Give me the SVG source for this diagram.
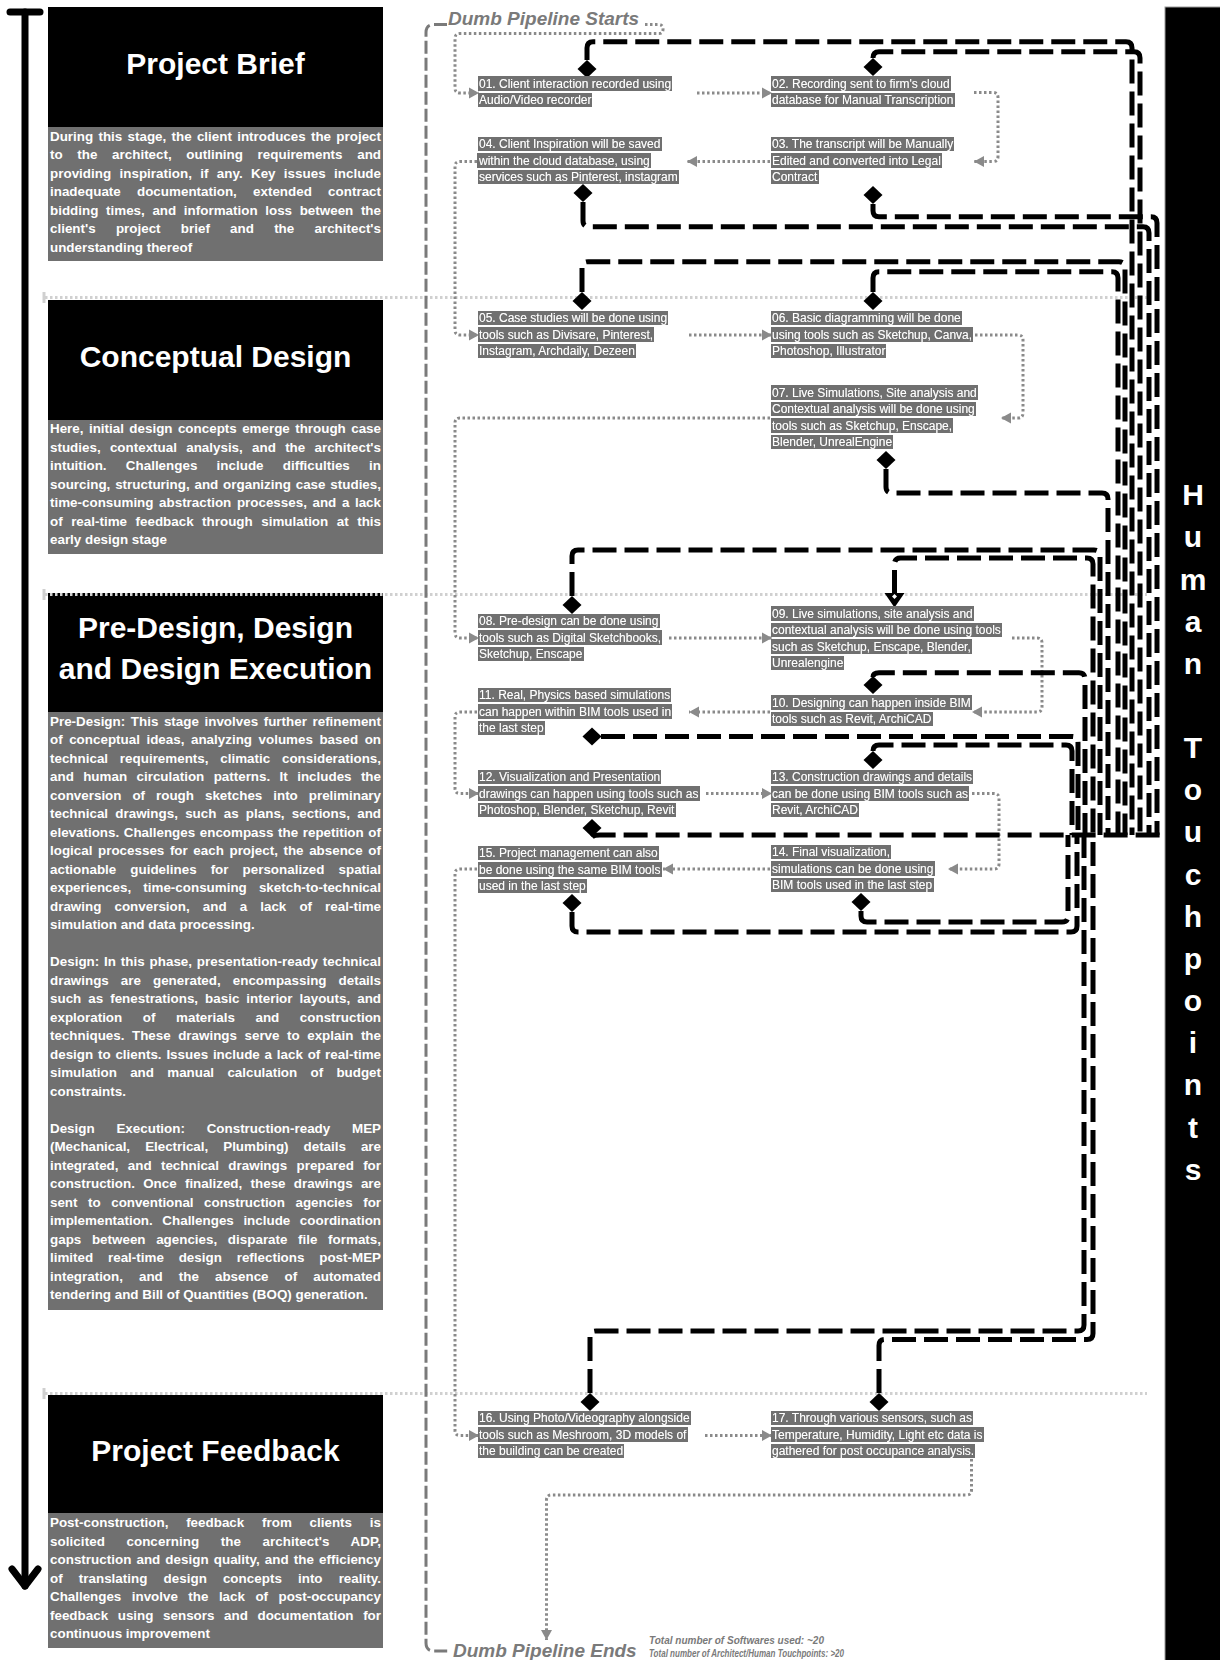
<svg xmlns="http://www.w3.org/2000/svg" width="1220" height="1660" viewBox="0 0 1220 1660">
  <defs>
    <filter id="hl" x="-0.004" y="0" width="1.008" height="1">
      <feFlood flood-color="#6f6f6f"/>
      <feComposite in="SourceGraphic" operator="over"/>
    </filter>
    <marker id="ga" viewBox="0 0 10 12" refX="10" refY="6" markerWidth="10" markerHeight="12" markerUnits="userSpaceOnUse" orient="auto">
      <path d="M0 0.5 L10 6 L0 11.5 Z" fill="#8a8a8a"/>
    </marker>
    <path id="dia" d="M0 -9 L9.5 0 L0 9 L-9.5 0 Z" fill="#000"/>
  </defs>
  <style>
    .pt{font-family:"Liberation Sans",Arial,sans-serif;font-weight:bold;font-size:30px;fill:#fff;text-anchor:middle}
    .pb{font-family:"Liberation Sans",Arial,sans-serif;font-weight:bold;font-size:13.4px;fill:#fff}
    .st{font-family:"Liberation Sans",Arial,sans-serif;font-size:12px;fill:#fff;filter:url(#hl)}
    .flow{fill:none;stroke:#8a8a8a;stroke-width:3;stroke-dasharray:2.5 2.5}
    .touch{fill:none;stroke:#000;stroke-width:5;stroke-dasharray:24 8}
    .sep{fill:none;stroke:#d0d0d0;stroke-width:3;stroke-dasharray:2.5 2.5}
    .bracket{fill:none;stroke:#7a7a7a;stroke-width:3;stroke-dasharray:13 4}
    .pipe{font-family:"Liberation Sans",Arial,sans-serif;font-weight:bold;font-style:italic;font-size:19px;fill:#7a7a7a}
    .tot{font-family:"Liberation Sans",Arial,sans-serif;font-weight:bold;font-style:italic;font-size:10px;fill:#7a7a7a}
    .ht{font-family:"Liberation Sans",Arial,sans-serif;font-weight:bold;font-size:30px;fill:#fff;text-anchor:middle}
  </style>

  <rect width="1220" height="1660" fill="#fff"/>

  <!-- timeline arrow on the left -->
  <g id="timeline" fill="none" stroke="#000" stroke-width="7" stroke-linecap="round" stroke-linejoin="round">
    <line x1="10" y1="12" x2="40" y2="12"/>
    <line x1="25" y1="12" x2="25" y2="1586"/>
    <polyline points="12,1569 25,1586 38,1569"/>
  </g>

  <!-- stage panels: justified body lines use word-spacing plus textLength -->
  <g id="panel-brief">
    <rect x="48" y="7" width="335" height="120" fill="#000"/>
    <rect x="48" y="127" width="335" height="134" fill="#707070"/>
    <text class="pt" x="215.5" y="74">Project Brief</text>
    <text class="pb" x="50" y="140.5" word-spacing="1.57" textLength="331" lengthAdjust="spacing">During this stage, the client introduces the project</text>
    <text class="pb" x="50" y="159" word-spacing="10.96" textLength="331" lengthAdjust="spacing">to the architect, outlining requirements and</text>
    <text class="pb" x="50" y="177.5" word-spacing="4.55" textLength="331" lengthAdjust="spacing">providing inspiration, if any. Key issues include</text>
    <text class="pb" x="50" y="196" word-spacing="12.5" textLength="331" lengthAdjust="spacing">inadequate documentation, extended contract</text>
    <text class="pb" x="50" y="214.5" word-spacing="3.9" textLength="331" lengthAdjust="spacing">bidding times, and information loss between the</text>
    <text class="pb" x="50" y="233" word-spacing="16.5" textLength="331" lengthAdjust="spacing">client's project brief and the architect's</text>
    <text class="pb" x="50" y="251.5">understanding thereof</text>
  </g>

  <g id="panel-concept">
    <rect x="48" y="300" width="335" height="120" fill="#000"/>
    <rect x="48" y="420" width="335" height="134" fill="#707070"/>
    <text class="pt" x="215.5" y="367">Conceptual Design</text>
    <text class="pb" x="50" y="433" word-spacing="1.67" textLength="331" lengthAdjust="spacing">Here, initial design concepts emerge through case</text>
    <text class="pb" x="50" y="451.5" word-spacing="5.54" textLength="331" lengthAdjust="spacing">studies, contextual analysis, and the architect's</text>
    <text class="pb" x="50" y="470" word-spacing="15.55" textLength="331" lengthAdjust="spacing">intuition. Challenges include difficulties in</text>
    <text class="pb" x="50" y="488.5" word-spacing="1.12" textLength="331" lengthAdjust="spacing">sourcing, structuring, and organizing case studies,</text>
    <text class="pb" x="50" y="507" word-spacing="1.86" textLength="331" lengthAdjust="spacing">time-consuming abstraction processes, and a lack</text>
    <text class="pb" x="50" y="525.5" word-spacing="4.78" textLength="331" lengthAdjust="spacing">of real-time feedback through simulation at this</text>
    <text class="pb" x="50" y="544">early design stage</text>
  </g>

  <g id="panel-design">
    <rect x="48" y="593" width="335" height="119" fill="#000"/>
    <rect x="48" y="712" width="335" height="598" fill="#707070"/>
    <text class="pt" x="215.5" y="638">Pre-Design, Design</text>
    <text class="pt" x="215.5" y="679">and Design Execution</text>
    <text class="pb" x="50" y="725.5" word-spacing="1.86" textLength="331" lengthAdjust="spacing">Pre-Design: This stage involves further refinement</text>
    <text class="pb" x="50" y="744" word-spacing="2.79" textLength="331" lengthAdjust="spacing">of conceptual ideas, analyzing volumes based on</text>
    <text class="pb" x="50" y="762.5" word-spacing="8.06" textLength="331" lengthAdjust="spacing">technical requirements, climatic considerations,</text>
    <text class="pb" x="50" y="781" word-spacing="5.65" textLength="331" lengthAdjust="spacing">and human circulation patterns. It includes the</text>
    <text class="pb" x="50" y="799.5" word-spacing="7.22" textLength="331" lengthAdjust="spacing">conversion of rough sketches into preliminary</text>
    <text class="pb" x="50" y="818" word-spacing="3.53" textLength="331" lengthAdjust="spacing">technical drawings, such as plans, sections, and</text>
    <text class="pb" x="50" y="836.5" word-spacing="0.96" textLength="331" lengthAdjust="spacing">elevations. Challenges encompass the repetition of</text>
    <text class="pb" x="50" y="855" word-spacing="1.87" textLength="331" lengthAdjust="spacing">logical processes for each project, the absence of</text>
    <text class="pb" x="50" y="873.5" word-spacing="10.3" textLength="331" lengthAdjust="spacing">actionable guidelines for personalized spatial</text>
    <text class="pb" x="50" y="892" word-spacing="8.4" textLength="331" lengthAdjust="spacing">experiences, time-consuming sketch-to-technical</text>
    <text class="pb" x="50" y="910.5" word-spacing="9.37" textLength="331" lengthAdjust="spacing">drawing conversion, and a lack of real-time</text>
    <text class="pb" x="50" y="929">simulation and data processing.</text>
    <text class="pb" x="50" y="966" word-spacing="1.02" textLength="331" lengthAdjust="spacing">Design: In this phase, presentation-ready technical</text>
    <text class="pb" x="50" y="984.5" word-spacing="8.35" textLength="331" lengthAdjust="spacing">drawings are generated, encompassing details</text>
    <text class="pb" x="50" y="1003" word-spacing="3.28" textLength="331" lengthAdjust="spacing">such as fenestrations, basic interior layouts, and</text>
    <text class="pb" x="50" y="1021.5" word-spacing="16.85" textLength="331" lengthAdjust="spacing">exploration of materials and construction</text>
    <text class="pb" x="50" y="1040" word-spacing="3.8" textLength="331" lengthAdjust="spacing">techniques. These drawings serve to explain the</text>
    <text class="pb" x="50" y="1058.5" word-spacing="1.06" textLength="331" lengthAdjust="spacing">design to clients. Issues include a lack of real-time</text>
    <text class="pb" x="50" y="1077" word-spacing="9.62" textLength="331" lengthAdjust="spacing">simulation and manual calculation of budget</text>
    <text class="pb" x="50" y="1095.5">constraints.</text>
    <text class="pb" x="50" y="1132.5" word-spacing="18" textLength="331" lengthAdjust="spacing">Design Execution: Construction-ready MEP</text>
    <text class="pb" x="50" y="1151" word-spacing="11.45" textLength="331" lengthAdjust="spacing">(Mechanical, Electrical, Plumbing) details are</text>
    <text class="pb" x="50" y="1169.5" word-spacing="5.58" textLength="331" lengthAdjust="spacing">integrated, and technical drawings prepared for</text>
    <text class="pb" x="50" y="1188" word-spacing="4.54" textLength="331" lengthAdjust="spacing">construction. Once finalized, these drawings are</text>
    <text class="pb" x="50" y="1206.5" word-spacing="6.92" textLength="331" lengthAdjust="spacing">sent to conventional construction agencies for</text>
    <text class="pb" x="50" y="1225" word-spacing="5.83" textLength="331" lengthAdjust="spacing">implementation. Challenges include coordination</text>
    <text class="pb" x="50" y="1243.5" word-spacing="6.92" textLength="331" lengthAdjust="spacing">gaps between agencies, disparate file formats,</text>
    <text class="pb" x="50" y="1262" word-spacing="11.1" textLength="331" lengthAdjust="spacing">limited real-time design reflections post-MEP</text>
    <text class="pb" x="50" y="1280.5" word-spacing="12.3" textLength="331" lengthAdjust="spacing">integration, and the absence of automated</text>
    <text class="pb" x="50" y="1299">tendering and Bill of Quantities (BOQ) generation.</text>
  </g>

  <g id="panel-feedback">
    <rect x="48" y="1395" width="335" height="118" fill="#000"/>
    <rect x="48" y="1513" width="335" height="135" fill="#707070"/>
    <text class="pt" x="215.5" y="1461">Project Feedback</text>
    <text class="pb" x="50" y="1527" word-spacing="14.05" textLength="331" lengthAdjust="spacing">Post-construction, feedback from clients is</text>
    <text class="pb" x="50" y="1545.5" word-spacing="17.7" textLength="331" lengthAdjust="spacing">solicited concerning the architect's ADP,</text>
    <text class="pb" x="50" y="1564" word-spacing="1.3" textLength="331" lengthAdjust="spacing">construction and design quality, and the efficiency</text>
    <text class="pb" x="50" y="1582.5" word-spacing="12.3" textLength="331" lengthAdjust="spacing">of translating design concepts into reality.</text>
    <text class="pb" x="50" y="1601" word-spacing="6.78" textLength="331" lengthAdjust="spacing">Challenges involve the lack of post-occupancy</text>
    <text class="pb" x="50" y="1619.5" word-spacing="5.88" textLength="331" lengthAdjust="spacing">feedback using sensors and documentation for</text>
    <text class="pb" x="50" y="1638">continuous improvement</text>
  </g>

  <!-- stage separators -->
  <g id="separators">
    <path class="sep" d="M45 297.5 H1147"/>
    <path class="sep" d="M45 594.5 H1147"/>
    <path class="sep" d="M45 1393.5 H1147"/>
    <g stroke="#d0d0d0" stroke-width="3">
      <line x1="44" y1="292" x2="44" y2="303"/>
      <line x1="44" y1="589" x2="44" y2="600"/>
      <line x1="44" y1="1388" x2="44" y2="1399"/>
    </g>
  </g>

  <!-- pipeline bracket and labels -->
  <g id="pipeline-bracket">
    <path class="bracket" d="M447 24.5 H434 Q426 24.5 426 32.5 V1643 Q426 1651 434 1651 H451"/>
    <text class="pipe" x="448" y="24.5">Dumb Pipeline Starts</text>
    <text class="pipe" x="453" y="1656.5">Dumb Pipeline Ends</text>
    <text class="tot" x="649" y="1643.5">Total number of Softwares used: ~20</text>
    <text class="tot" x="649" y="1657" textLength="195" lengthAdjust="spacingAndGlyphs">Total number of Architect/Human Touchpoints: &gt;20</text>
  </g>

  <!-- human touchpoints bar -->
  <g id="human-touchpoints">
    <rect x="1165" y="7" width="56" height="1654" fill="#000" stroke="#999" stroke-width="1"/>
    <text class="ht" x="1193" y="505">H</text>
    <text class="ht" x="1193" y="547">u</text>
    <text class="ht" x="1193" y="589.5">m</text>
    <text class="ht" x="1193" y="631.5">a</text>
    <text class="ht" x="1193" y="673.5">n</text>
    <text class="ht" x="1193" y="758">T</text>
    <text class="ht" x="1193" y="800">o</text>
    <text class="ht" x="1193" y="842">u</text>
    <text class="ht" x="1193" y="884.5">c</text>
    <text class="ht" x="1193" y="926.5">h</text>
    <text class="ht" x="1193" y="968.5">p</text>
    <text class="ht" x="1193" y="1011">o</text>
    <text class="ht" x="1193" y="1053">i</text>
    <text class="ht" x="1193" y="1095">n</text>
    <text class="ht" x="1193" y="1137.5">t</text>
    <text class="ht" x="1193" y="1179.5">s</text>
  </g>

  <!-- connectors: grey dotted flow between steps, black dashed touchpoint links -->
  <g id="connectors">
    <g id="flow">
      <path class="flow" marker-end="url(#ga)" d="M645 24.5 H658 Q663 24.5 663 29 V29.5 Q663 33.5 659 33.5 H460 Q455 33.5 455 38.5 V88 Q455 93 460 93 H479"/>
      <path class="flow" marker-end="url(#ga)" d="M697 93 H772"/>
      <path class="flow" marker-end="url(#ga)" d="M974 92.5 H993 Q998 92.5 998 97.5 V156.5 Q998 161.5 993 161.5 H974"/>
      <path class="flow" marker-end="url(#ga)" d="M770 161.5 H687"/>
      <path class="flow" marker-end="url(#ga)" d="M477 161.5 H460 Q455 161.5 455 166.5 V330 Q455 335 460 335 H479"/>
      <path class="flow" marker-end="url(#ga)" d="M689 335 H772"/>
      <path class="flow" marker-end="url(#ga)" d="M975 335 H1018 Q1023 335 1023 340 V413 Q1023 418 1018 418 H1001"/>
      <path class="flow" marker-end="url(#ga)" d="M770 418 H460 Q455 418 455 423 V633 Q455 638 460 638 H479"/>
      <path class="flow" marker-end="url(#ga)" d="M669 638 H772"/>
      <path class="flow" marker-end="url(#ga)" d="M1012 638 H1037 Q1042 638 1042 643 V707 Q1042 712 1037 712 H972"/>
      <path class="flow" marker-end="url(#ga)" d="M770 712 H689"/>
      <path class="flow" marker-end="url(#ga)" d="M477 712 H460 Q455 712 455 717 V788.5 Q455 793.5 460 793.5 H479"/>
      <path class="flow" marker-end="url(#ga)" d="M706 793.5 H772"/>
      <path class="flow" marker-end="url(#ga)" d="M972 793.5 H994 Q999 793.5 999 798.5 V864 Q999 869 994 869 H948"/>
      <path class="flow" marker-end="url(#ga)" d="M770 869 H663"/>
      <path class="flow" marker-end="url(#ga)" d="M477 869 H460 Q455 869 455 874 V1430.5 Q455 1435.5 460 1435.5 H479"/>
      <path class="flow" marker-end="url(#ga)" d="M705 1435.5 H772"/>
      <path class="flow" marker-end="url(#ga)" d="M971.5 1459 V1490 Q971.5 1495 966.5 1495 H551.5 Q546.5 1495 546.5 1500 V1640"/>
    </g>

    <g id="touch-links">
      <path class="touch" d="M587 60 V48 Q587 41.7 593 41.7 H1126 Q1132 41.7 1132 48 V835"/>
      <path class="touch" d="M873 58 Q873 51.7 879 51.7 H1134 Q1140 51.7 1140 58 V835"/>
      <path class="touch" d="M873 204 V210.7 Q873 216.7 879 216.7 H1151 Q1157 216.7 1157 223 V835"/>
      <path class="touch" d="M583 202 V220.7 Q583 226.7 589 226.7 H1143 Q1149 226.7 1149 233 V835"/>
      <path class="touch" d="M582 292 V268 Q582 261.7 588 261.7 H1119 Q1125 261.7 1125 268 V835"/>
      <path class="touch" d="M873 292 V278 Q873 271.7 879 271.7 H1112 Q1118 271.7 1118 278 V835"/>
      <path class="touch" d="M886 469 V487 Q886 493 892 493 H1102 Q1108 493 1108 499 V835"/>
      <path class="touch" d="M572 596 V556 Q572 550 578 550 H1094 Q1100 550 1100 556 V835"/>
      <path class="touch" d="M894.5 594 V564 Q894.5 558 900.5 558 H1087 Q1093 558 1093 564 V835"/>
      <path class="touch" d="M873 677 Q873 672.7 879 672.7 H1079 Q1085 672.7 1085 679 V835"/>
      <path class="touch" d="M601 736.5 H1072 Q1078 736.5 1078 742.5 V835"/>
      <path class="touch" d="M873 751 Q873 745 879 745 H1066 Q1072 745 1072 751 V835"/>
      <path class="touch" d="M592 837 Q594 835 600 835 H1165"/>
      <path class="touch" d="M861 911 V916 Q861 922 867 922 H1062 Q1068 922 1068 916 V835"/>
      <path class="touch" d="M572 912 V926 Q572 932 578 932 H1071 Q1077 932 1077 926 V835"/>
      <path class="touch" d="M590 1393 V1337 Q590 1331 596 1331 H1078 Q1084 1331 1084 1325 V835"/>
      <path class="touch" d="M879 1393 V1345.5 Q879 1339.5 885 1339.5 H1087 Q1093 1339.5 1093 1333.5 V835"/>
    </g>

    <g id="touch-ends">
      <use href="#dia" x="587" y="69"/>
      <use href="#dia" x="873" y="67"/>
      <use href="#dia" x="873" y="195"/>
      <use href="#dia" x="583" y="193"/>
      <use href="#dia" x="582" y="301"/>
      <use href="#dia" x="873" y="301"/>
      <use href="#dia" x="886" y="460"/>
      <use href="#dia" x="572" y="605"/>
      <path d="M884.5 593 H904.5 L894.5 607.5 Z" fill="#000"/>
      <path d="M894.5 594 L897 596.5 L894.5 599 L892 596.5 Z" fill="#fff"/>
      <use href="#dia" x="873" y="685"/>
      <use href="#dia" x="592" y="736.5"/>
      <use href="#dia" x="873" y="760"/>
      <use href="#dia" x="592" y="828"/>
      <use href="#dia" x="861" y="902"/>
      <use href="#dia" x="572" y="903"/>
      <use href="#dia" x="590" y="1402"/>
      <use href="#dia" x="879" y="1402"/>
    </g>
  </g>

  <!-- process steps -->
  <g id="step-01">
    <text class="st" x="479" y="87.5">01. Client interaction recorded using</text>
    <text class="st" x="479" y="104">Audio/Video recorder</text>
  </g>
  <g id="step-02">
    <text class="st" x="772" y="87.5">02. Recording sent to firm's cloud</text>
    <text class="st" x="772" y="104">database for Manual Transcription</text>
  </g>
  <g id="step-03">
    <text class="st" x="772" y="148">03. The transcript will be Manually</text>
    <text class="st" x="772" y="164.5">Edited and converted into Legal</text>
    <text class="st" x="772" y="181">Contract</text>
  </g>
  <g id="step-04">
    <text class="st" x="479" y="148">04. Client Inspiration will be saved</text>
    <text class="st" x="479" y="164.5">within the cloud database, using</text>
    <text class="st" x="479" y="181">services such as Pinterest, instagram</text>
  </g>
  <g id="step-05">
    <text class="st" x="479" y="322">05. Case studies will be done using</text>
    <text class="st" x="479" y="338.5">tools such as Divisare, Pinterest,</text>
    <text class="st" x="479" y="355">Instagram, Archdaily, Dezeen</text>
  </g>
  <g id="step-06">
    <text class="st" x="772" y="322">06. Basic diagramming will be done</text>
    <text class="st" x="772" y="338.5">using tools such as Sketchup, Canva,</text>
    <text class="st" x="772" y="355">Photoshop, Illustrator</text>
  </g>
  <g id="step-07">
    <text class="st" x="772" y="396.5">07. Live Simulations, Site analysis and</text>
    <text class="st" x="772" y="413">Contextual analysis will be done using</text>
    <text class="st" x="772" y="429.5">tools such as Sketchup, Enscape,</text>
    <text class="st" x="772" y="446">Blender, UnrealEngine</text>
  </g>
  <g id="step-08">
    <text class="st" x="479" y="625">08. Pre-design can be done using</text>
    <text class="st" x="479" y="641.5">tools such as Digital Sketchbooks,</text>
    <text class="st" x="479" y="658">Sketchup, Enscape</text>
  </g>
  <g id="step-09">
    <text class="st" x="772" y="617.5">09. Live simulations, site analysis and</text>
    <text class="st" x="772" y="634">contextual analysis will be done using tools</text>
    <text class="st" x="772" y="650.5">such as Sketchup, Enscape, Blender,</text>
    <text class="st" x="772" y="667">Unrealengine</text>
  </g>
  <g id="step-10">
    <text class="st" x="772" y="706.5">10. Designing can happen inside BIM</text>
    <text class="st" x="772" y="723">tools such as Revit, ArchiCAD</text>
  </g>
  <g id="step-11">
    <text class="st" x="479" y="699">11. Real, Physics based simulations</text>
    <text class="st" x="479" y="715.5">can happen within BIM tools used in</text>
    <text class="st" x="479" y="732">the last step</text>
  </g>
  <g id="step-12">
    <text class="st" x="479" y="781">12. Visualization and Presentation</text>
    <text class="st" x="479" y="797.5">drawings can happen using tools such as</text>
    <text class="st" x="479" y="814">Photoshop, Blender, Sketchup, Revit</text>
  </g>
  <g id="step-13">
    <text class="st" x="772" y="781">13. Construction drawings and details</text>
    <text class="st" x="772" y="797.5">can be done using BIM tools such as</text>
    <text class="st" x="772" y="814">Revit, ArchiCAD</text>
  </g>
  <g id="step-14">
    <text class="st" x="772" y="856">14. Final visualization,</text>
    <text class="st" x="772" y="872.5">simulations can be done using</text>
    <text class="st" x="772" y="889">BIM tools used in the last step</text>
  </g>
  <g id="step-15">
    <text class="st" x="479" y="857">15. Project management can also</text>
    <text class="st" x="479" y="873.5">be done using the same BIM tools</text>
    <text class="st" x="479" y="890">used in the last step</text>
  </g>
  <g id="step-16">
    <text class="st" x="479" y="1422">16. Using Photo/Videography alongside</text>
    <text class="st" x="479" y="1438.5">tools such as Meshroom, 3D models of</text>
    <text class="st" x="479" y="1455">the building can be created</text>
  </g>
  <g id="step-17">
    <text class="st" x="772" y="1422">17. Through various sensors, such as</text>
    <text class="st" x="772" y="1438.5">Temperature, Humidity, Light etc data is</text>
    <text class="st" x="772" y="1455">gathered for post occupance analysis.</text>
  </g>
</svg>
